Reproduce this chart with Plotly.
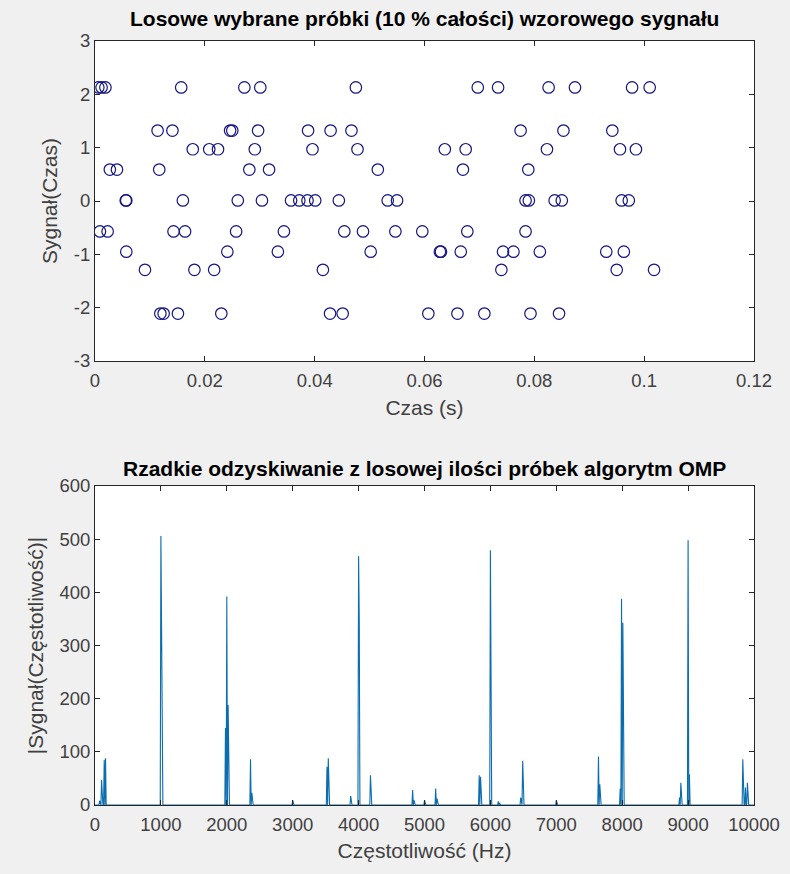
import numpy as np
import plotly.graph_objects as go

# ---------------- data: top plot (random samples) ----------------
level_213 = [0.0006, 0.0012, 0.0019, 0.0157, 0.0272, 0.0301, 0.0475, 0.0697, 0.0734, 0.0826, 0.0874, 0.0978, 0.1010]
level_133 = [0.0114, 0.0141, 0.0246, 0.0250, 0.0297, 0.0388, 0.0429, 0.0467, 0.0775, 0.0853, 0.0942]
level_097 = [0.0178, 0.0208, 0.0224, 0.0291, 0.0396, 0.0478, 0.0637, 0.0675, 0.0823, 0.0956, 0.0985]
level_059 = [0.0027, 0.0040, 0.0117, 0.0281, 0.0317, 0.0515, 0.0670, 0.0789]
level_000 = [0.0056, 0.0057, 0.0160, 0.0260, 0.0304, 0.0357, 0.0372, 0.0387, 0.0401, 0.0444,
             0.0533, 0.0550, 0.0784, 0.0790, 0.0837, 0.0850, 0.0959, 0.0972]
level_m057 = [0.0009, 0.0023, 0.0143, 0.0164, 0.0257, 0.0344, 0.0454, 0.0488, 0.0547, 0.0596, 0.0678, 0.0784]
level_m095 = [0.0057, 0.0241, 0.0333, 0.0502, 0.0628, 0.0630, 0.0666, 0.0743, 0.0762, 0.0810, 0.0931, 0.0963]
level_m129 = [0.0091, 0.0181, 0.0217, 0.0415, 0.0740, 0.0950, 0.1018]
level_m211 = [0.0119, 0.0125, 0.0151, 0.0230, 0.0428, 0.0451, 0.0607, 0.0660, 0.0709, 0.0793, 0.0845]

levels = [2.13, 1.32, 0.97, 0.59, 0.01, -0.57, -0.95, -1.29, -2.11]
level_times = [level_213, level_133, level_097, level_059, level_000,
               level_m057, level_m095, level_m129, level_m211]

# ---------------- data: bottom plot (OMP spectrum) ----------------
spike_freqs = [70, 100, 140, 160, 1000, 1010, 1980, 2000, 2020, 2360, 2380, 3000,
               3520, 3540, 3880, 4000, 4010, 4180, 4820, 4840, 5000, 5170, 5190,
               5830, 5850, 6000, 6120, 6140, 6460, 6490, 7000, 7640, 7660,
               7970, 7990, 8010, 8870, 8890, 9000, 9020, 9830, 9870, 9900]
spike_amps = [8, 47, 85, 88, 506, 313, 145, 392, 188, 86, 23, 9,
              72, 88, 17, 468, 346, 56, 28, 9, 9, 31, 12,
              56, 53, 479, 7, 3, 14, 83, 9, 91, 39,
              31, 388, 343, 14, 42, 498, 58, 86, 33, 42]
freq_step = 10
freq_max = 10000

x_ticks_top = [0, 0.02, 0.04, 0.06, 0.08, 0.1, 0.12]
x_ticklabels_top = ["0", "0.02", "0.04", "0.06", "0.08", "0.1", "0.12"]
y_ticks_top = [-3, -2, -1, 0, 1, 2, 3]
y_ticklabels_top = ["-3", "-2", "-1", "0", "1", "2", "3"]
x_ticks_bot = list(range(0, 10001, 1000))
y_ticks_bot = [0, 100, 200, 300, 400, 500, 600]

# build sample arrays
t_all, s_all = [], []
for lv, ts in zip(levels, level_times):
    t_all += ts
    s_all += [lv] * len(ts)

freqs = np.arange(0, freq_max + freq_step, freq_step)
amps = np.zeros_like(freqs, dtype=float)
for f, a in zip(spike_freqs, spike_amps):
    amps[int(round(f / freq_step))] = a

W, H = 790, 874
FONT = "Liberation Sans, Arial, sans-serif"
AX = "#262626"
TXT = "#404040"

fig = go.Figure()
fig.add_trace(go.Scatter(
    x=t_all, y=s_all, mode="markers", xaxis="x", yaxis="y",
    marker=dict(symbol="circle-open", size=11.5, color="#151585", line=dict(width=1.2, color="#151585")),
    showlegend=False, hoverinfo="skip"))
fig.add_trace(go.Scatter(
    x=freqs, y=amps, mode="lines", xaxis="x2", yaxis="y2",
    line=dict(color="#0A6DAE", width=1.1),
    showlegend=False, hoverinfo="skip"))

def px_x(p):
    return p / W

def px_y(p):
    return 1 - p / H

common = dict(showline=True, linecolor=AX, linewidth=1, mirror="ticks", ticks="inside",
              ticklen=5, tickcolor=AX, tickwidth=1, showgrid=False, zeroline=False,
              automargin=False,
              tickfont=dict(family=FONT, size=18.5, color=TXT))
title_font = dict(family=FONT, size=21, color=TXT)

x_dom = [px_x(95), px_x(754)]
fig.update_layout(
    width=W, height=H,
    margin=dict(l=0, r=0, t=0, b=0),
    paper_bgcolor="#F0F0F0", plot_bgcolor="#FFFFFF",
    xaxis=dict(domain=x_dom, anchor="y", range=[0, 0.12], tickvals=x_ticks_top,
               ticktext=x_ticklabels_top, ticklabelstandoff=3,
               title=dict(text="Czas (s)", font=title_font, standoff=10),
               **common),
    yaxis=dict(domain=[px_y(361), px_y(41)], anchor="x", range=[-3, 3], tickvals=y_ticks_top,
               ticktext=y_ticklabels_top,
               title=dict(text="Sygnał(Czas)", font=title_font, standoff=10),
               **common),
    xaxis2=dict(domain=x_dom, anchor="y2", range=[0, 10000], tickvals=x_ticks_bot,
                ticktext=[str(v) for v in x_ticks_bot], ticklabelstandoff=3,
                title=dict(text="Częstotliwość (Hz)", font=title_font, standoff=9),
                **common),
    yaxis2=dict(domain=[px_y(805), px_y(486)], anchor="x2", range=[0, 600], tickvals=y_ticks_bot,
                title=dict(text="|Sygnał(Częstotliwość)|", font=title_font, standoff=10),
                **common),
    annotations=[
        dict(text="<b>Losowe wybrane próbki (10 % całości) wzorowego sygnału</b>",
             x=(x_dom[0] + x_dom[1]) / 2, y=px_y(18), xref="paper", yref="paper",
             showarrow=False, font=dict(family=FONT, size=21, color="#000000"),
             xanchor="center", yanchor="middle"),
        dict(text="<b>Rzadkie odzyskiwanie z losowej ilości próbek algorytm OMP</b>",
             x=(x_dom[0] + x_dom[1]) / 2, y=px_y(468), xref="paper", yref="paper",
             showarrow=False, font=dict(family=FONT, size=21, color="#000000"),
             xanchor="center", yanchor="middle"),
    ],
)

fig.write_html("out.html")
